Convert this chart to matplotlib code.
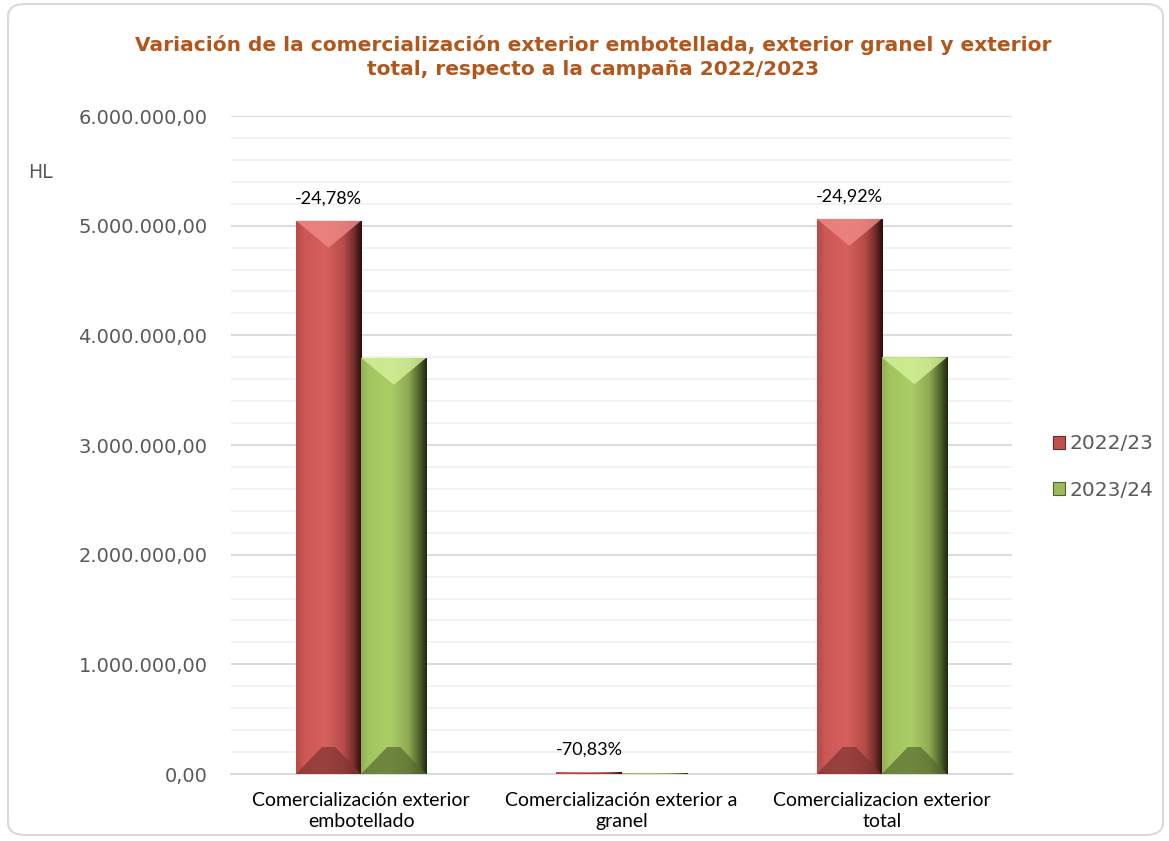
import numpy as np
import matplotlib
matplotlib.use("Agg")
import matplotlib.pyplot as plt
from matplotlib.patches import Patch, FancyBboxPatch, Polygon
from matplotlib.colors import LinearSegmentedColormap
from matplotlib.ticker import FuncFormatter, MultipleLocator

# ---------------- data ----------------
categories = ["Comercialización exterior\nembotellado",
              "Comercialización exterior a\ngranel",
              "Comercializacion exterior\ntotal"]
series_names = ["2022/23", "2023/24"]
values_2022 = [5045000, 17000, 5062000]
values_2023 = [3794850, 4960, 3799810]
variation_labels = ["-24,78%", "-70,83%", "-24,92%"]
title = ("Variación de la comercialización exterior embotellada, exterior granel y exterior\n"
         "total, respecto a la campaña 2022/2023")
unit_label = "HL"

# ---------------- style ----------------
W, H = 1169, 841
fig = plt.figure(figsize=(W / 100, H / 100), dpi=100)
fig.patch.set_facecolor("white")

# outer rounded frame
frame = FancyBboxPatch((8 / W, 6 / H), (W - 14) / W, (H - 10) / H,
                       boxstyle="round,pad=0,rounding_size=0.015",
                       transform=fig.transFigure, facecolor="none",
                       edgecolor="#d9d9d9", linewidth=1.5, zorder=0)
fig.patches.append(frame)

ax = fig.add_axes([231 / W, 1 - 774 / H, (1012 - 231) / W, (774 - 116) / H])
ax.set_facecolor("white")
ax.set_ylim(0, 6000000)
ax.set_xlim(-0.5, 2.5)

def fmt(v, pos):
    s = f"{v:,.2f}"
    return s.replace(",", "X").replace(".", ",").replace("X", ".")

ax.yaxis.set_major_locator(MultipleLocator(1000000))
ax.yaxis.set_minor_locator(MultipleLocator(200000))
ax.yaxis.set_major_formatter(FuncFormatter(fmt))
ax.grid(axis="y", which="major", color="#d9d9d9", linewidth=1.3, zorder=0)
ax.grid(axis="y", which="minor", color="#f0f0f0", linewidth=1.2, zorder=0)
ax.set_axisbelow(True)
for s in ["top", "right", "left"]:
    ax.spines[s].set_visible(False)
ax.spines["bottom"].set_color("#d9d9d9")
ax.spines["bottom"].set_linewidth(1.3)
ax.tick_params(axis="y", which="both", length=0, labelsize=14, labelcolor="#595959", pad=17)
ax.tick_params(axis="x", length=0, pad=13)
x = np.arange(len(categories))
ax.set_xticks(x)
ax.set_xticklabels(categories, fontsize=14, color="#000000", family="Lato", linespacing=1.3)

bw = 0.25
cmap_red = LinearSegmentedColormap.from_list("r", [
    (0.0, "#b74a47"), (0.12, "#cc5755"), (0.45, "#d5605d"),
    (0.72, "#b84c49"), (0.87, "#7a2f2d"), (1.0, "#2a0d0d")])
cmap_green = LinearSegmentedColormap.from_list("g", [
    (0.0, "#8fb154"), (0.12, "#a3c55f"), (0.45, "#aacd66"),
    (0.72, "#8fab52"), (0.87, "#566b30"), (1.0, "#1e2810")])
top_red, bot_red = "#f08a86", "#7e3432"
top_green, bot_green = "#d6f29a", "#56692f"

px_per_unit_y = (774 - 116) / 6000000.0
grad = np.linspace(0, 1, 256).reshape(1, -1)

def draw_series(xpos, vals, cmap, topc, botc, label):
    bars = ax.bar(xpos, vals, width=bw, color=cmap(0.4), linewidth=0, zorder=2, label=label)
    for b in bars:
        x0, w, h = b.get_x(), b.get_width(), b.get_height()
        im = ax.imshow(grad, extent=(x0, x0 + w, 0, h), aspect="auto", cmap=cmap,
                       zorder=3, interpolation="bicubic")
        im.set_clip_path(b)
        depth = min(27 / px_per_unit_y, h / 2)
        # top bevel (light inverted triangle)
        tri = Polygon([(x0, h), (x0 + w, h), (x0 + w / 2, h - depth)],
                      closed=True, facecolor=topc, edgecolor="none", alpha=0.8, zorder=4)
        ax.add_patch(tri)
        # bottom bevel (dark trapezoid)
        inset = 0.4 * w
        trap = Polygon([(x0, 0), (x0 + w, 0), (x0 + w - inset, depth), (x0 + inset, depth)],
                       closed=True, facecolor=botc, edgecolor="none", alpha=0.7, zorder=4)
        ax.add_patch(trap)
    ax.set_xlim(-0.5, 2.5)
    ax.set_ylim(0, 6000000)
    return bars

bars1 = draw_series(x - bw / 2, values_2022, cmap_red, top_red, bot_red, series_names[0])
bars2 = draw_series(x + bw / 2, values_2023, cmap_green, top_green, bot_green, series_names[1])

for b, lab in zip(bars1, variation_labels):
    ax.annotate(lab, (b.get_x() + b.get_width() / 2, b.get_height()),
                xytext=(0, 16), textcoords="offset points", ha="center", va="center",
                fontsize=13, family="Lato", color="#000000", zorder=5)

# unit label
fig.text(28 / W, 1 - 172 / H, unit_label, fontsize=13.5, color="#595959", va="center", ha="left")

# title
fig.text(593 / W, 1 - 57 / H, title, ha="center", va="center", fontsize=14.5,
         fontweight="bold", color="#b3561c", linespacing=1.38)

# legend
handles = [Patch(facecolor="#c0504d", edgecolor="#6e2a28", linewidth=0.8),
           Patch(facecolor="#9bbb59", edgecolor="#4f6330", linewidth=0.8)]
fig.legend(handles, series_names, loc="center left", bbox_to_anchor=(1035 / W, 1 - 467 / H),
           frameon=False, fontsize=14.5, labelcolor="#595959", handlelength=0.6, handleheight=0.6,
           handletextpad=0.2, labelspacing=1.35)

fig.savefig("out.png", dpi=100, facecolor="white")
